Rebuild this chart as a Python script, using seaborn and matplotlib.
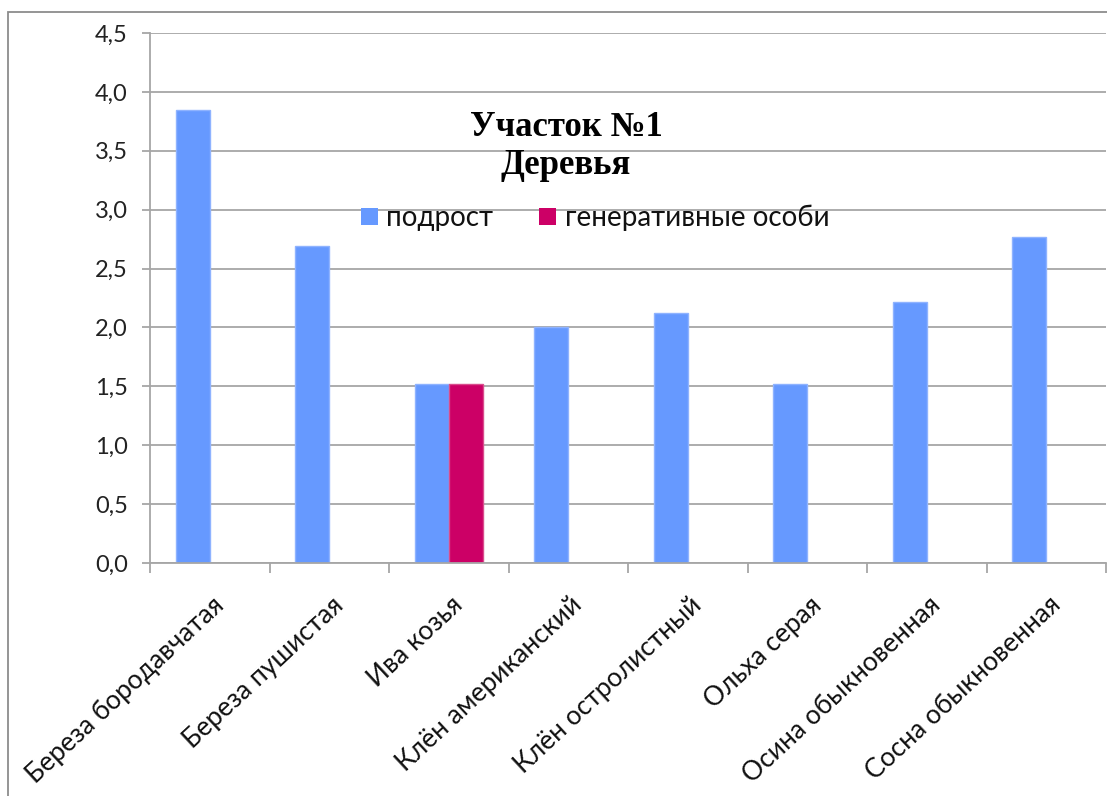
import matplotlib
matplotlib.use("Agg")
import matplotlib.pyplot as plt
from matplotlib.patches import Rectangle, Patch
from matplotlib.ticker import FixedLocator, FuncFormatter
from matplotlib.transforms import ScaledTranslation
import seaborn as sns
import pandas as pd

# Species and measured values per group
species = [
    "Береза бородавчатая",
    "Береза пушистая",
    "Ива козья",
    "Клён американский",
    "Клён остролистный",
    "Ольха серая",
    "Осина обыкновенная",
    "Сосна обыкновенная",
]
podrost = [3.85, 2.69, 1.52, 2.00, 2.12, 1.52, 2.22, 2.77]
generative = [0.0, 0.0, 1.52, 0.0, 0.0, 0.0, 0.0, 0.0]
groups = ["подрост", "генеративные особи"]
colors = ["#6699FF", "#CC0066"]
edge_colors = ["#8FB3FF", "#D94C8C"]

title_lines = ["Участок №1", "Деревья"]

df = pd.DataFrame({
    "species": species * 2,
    "value": podrost + generative,
    "group": [groups[0]] * len(species) + [groups[1]] * len(species),
})

sns.set_style("white")
plt.rcParams["font.family"] = ["Lato", "DejaVu Sans"]

W, H, DPI = 1107, 796, 100
fig = plt.figure(figsize=(W / DPI, H / DPI), dpi=DPI)
ax = fig.add_axes([150 / W, 1 - 563 / H, (1106 - 150) / W, (563 - 33) / H])

sns.barplot(
    data=df, x="species", y="value", hue="group", order=species,
    hue_order=groups, palette=dict(zip(groups, colors)), saturation=1,
    width=0.57, linewidth=0, ax=ax, legend=False,
)
# thin lighter outline around each bar
for cont, ec in zip(ax.containers, edge_colors):
    for bar in cont:
        if bar.get_height() > 0:
            bar.set_edgecolor(ec)
            bar.set_linewidth(1.0)

grid_c = "#A6A6A6"
ax.set_ylim(0, 4.5)
ax.set_xlim(-0.5, len(species) - 0.5)
yt = [i * 0.5 for i in range(10)]
ax.yaxis.set_major_locator(FixedLocator(yt))
ax.yaxis.set_major_formatter(FuncFormatter(lambda v, p: f"{v:.1f}".replace(".", ",")))
ax.grid(axis="y", color=grid_c, linewidth=1.3)
ax.set_axisbelow(True)
for s in ["top", "right"]:
    ax.spines[s].set_visible(False)
for s in ["left", "bottom"]:
    ax.spines[s].set_color(grid_c)
    ax.spines[s].set_linewidth(1.3)

ax.tick_params(axis="y", direction="out", length=6, width=1.3, color=grid_c,
               labelsize=17, labelcolor="#222222", pad=10, left=True)
# category boundaries get the tick marks; labels sit at the centres
ax.set_xticks([i - 0.5 for i in range(len(species) + 1)], minor=True)
ax.tick_params(axis="x", which="minor", direction="out", length=7, width=1.3,
               color=grid_c, bottom=True)
ax.tick_params(axis="x", which="major", length=0, pad=21, labelsize=19,
               labelcolor="#111111")
ax.set_xticks(range(len(species)))
ax.set_xticklabels(species, rotation=43, ha="right", va="top",
                   rotation_mode="anchor")
shift = ScaledTranslation(2 / DPI, 0, fig.dpi_scale_trans)
for lab in ax.get_xticklabels():
    lab.set_transform(lab.get_transform() + shift)
ax.set_xlabel("")
ax.set_ylabel("")

# chart title inside the plot area
fig.text(566 / W, 1 - 147 / H, "\n".join(title_lines), ha="center", va="center",
         fontsize=25, fontweight="bold", family=["Liberation Serif", "DejaVu Serif"],
         linespacing=1.2, color="#000000")

handles = [Patch(facecolor=c, edgecolor="none") for c in colors]
fig.legend(handles, groups, loc="center", ncol=2, frameon=False,
           bbox_to_anchor=(595 / W, 1 - 218 / H), fontsize=20,
           handlelength=0.62, handleheight=0.55, handletextpad=0.3,
           columnspacing=1.65, labelcolor="#111111")

# outer chart frame
fig.add_artist(Rectangle((8 / W, -0.2), 1.5, 1.2 - 12 / H, transform=fig.transFigure,
                         fill=False, edgecolor="#8C8C8C", linewidth=1.3))

fig.savefig("out.png", dpi=DPI)
